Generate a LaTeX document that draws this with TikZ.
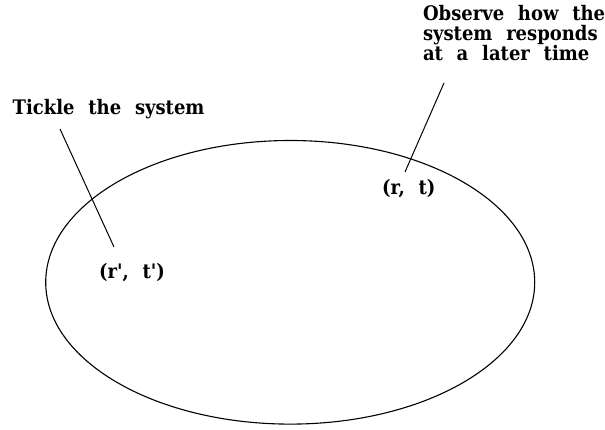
\documentclass[tikz,border=0pt]{standalone}
\usepackage{fontspec}
\setmainfont[WordSpace=2.2,Ligatures=TeXOff]{DejaVu Serif Condensed}
\begin{document}
\begin{tikzpicture}[x=1pt,y=1pt,
  lbl/.style={inner sep=0pt,outer sep=0pt,font=\fontsize{20}{20}\selectfont\bfseries,anchor=base west},
  pointer/.style={draw=black,line width=1pt}]
\useasboundingbox (0,0) rectangle (605,429);
\draw[line width=1.1pt] (290.2,146.7) ellipse [x radius=244.5, y radius=141.8];
\node[lbl] (tickle) at (12.7,314) {Tickle the system};
\node[lbl,align=left] (observe) at (423,368) {Observe how the\\system responds\\at a later time};
\node[lbl] (rp) at (99,151) {(r', t')};
\node[lbl] (r) at (382,234) {(r, t)};
\coordinate (a1) at (60,300);
\coordinate (a2) at (114,182);
\coordinate (b1) at (444,346);
\coordinate (b2) at (405,257);
\draw[pointer] (a1) -- (a2);
\draw[pointer] (b1) -- (b2);
\end{tikzpicture}
\end{document}
